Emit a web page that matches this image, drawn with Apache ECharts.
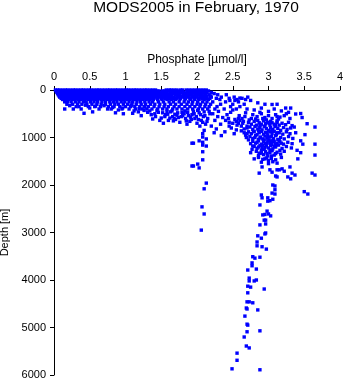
<!DOCTYPE html>
<html>
<head>
<meta charset="utf-8">
<script src="https://cdn.jsdelivr.net/npm/echarts@6/dist/echarts.min.js"></script>
<style>
  html, body { margin: 0; padding: 0; background: #fff; }
  #chart { width: 345px; height: 384px; }
</style>
</head>
<body>
<div id="chart"></div>
<script>
// Phosphate profiles, MODS2005, February 1970.
// Upper ocean: samples at standard depths (m), one phosphate list per depth.
const levelDepths = [0, 20, 50, 75, 100, 125, 150, 175, 200, 250, 300, 350, 400];
const levelPhosphate = [
  [0.02,0.05,0.08,0.12,0.16,0.19,0.23,0.27,0.3,0.34,0.38,0.41,0.45,0.49,0.52,0.56,0.6,0.63,0.67,0.71,0.75,0.78,0.82,0.86,0.89,0.93,0.97,1.01,1.04,1.08,1.12,1.15,1.19,1.23,1.27,1.3,1.34,1.38,1.42,1.57,1.61,1.64,1.68,1.72,1.77,1.8,1.85,1.89,1.93,1.97,2.01,2.05,2.09,2.13],
  [0.03,0.07,0.1,0.14,0.18,0.21,0.25,0.29,0.33,0.36,0.4,0.44,0.47,0.51,0.55,0.58,0.62,0.66,0.69,0.73,0.77,0.8,0.84,0.88,0.91,0.95,0.99,1.02,1.06,1.1,1.13,1.17,1.21,1.25,1.28,1.32,1.36,1.4,1.44,1.47,1.52,1.55,1.6,1.66,1.7,1.74,1.79,1.87,1.91,1.95,2.02,2.06,2.11,2.16],
  [0.04,0.08,0.11,0.15,0.19,0.22,0.26,0.3,0.34,0.37,0.41,0.45,0.48,0.52,0.56,0.59,0.63,0.67,0.7,0.74,0.78,0.82,0.85,0.89,0.93,0.96,1.0,1.04,1.08,1.11,1.15,1.19,1.22,1.26,1.3,1.34,1.38,1.41,1.45,1.5,1.54,1.58,1.63,1.69,1.73,1.78,1.82,1.9,1.94,1.99,2.04,2.1,2.14,2.2],
  [0.05,0.09,0.13,0.16,0.2,0.24,0.27,0.31,0.35,0.39,0.42,0.46,0.5,0.53,0.57,0.61,0.65,0.68,0.72,0.76,0.79,0.83,0.87,0.9,0.94,0.98,1.02,1.05,1.09,1.13,1.16,1.2,1.24,1.28,1.31,1.35,1.39,1.43,1.48,1.53,1.57,1.62,1.67,1.71,1.76,1.84,1.88,1.93,1.98,2.03,2.07,2.12,2.24],
  [0.06,0.1,0.14,0.17,0.21,0.25,0.29,0.32,0.36,0.4,0.44,0.47,0.51,0.55,0.58,0.62,0.66,0.7,0.73,0.77,0.81,0.84,0.88,0.92,0.96,0.99,1.03,1.07,1.11,1.14,1.18,1.22,1.26,1.29,1.33,1.37,1.41,1.46,1.51,1.56,1.61,1.65,1.7,1.75,1.81,1.86,1.92,1.97,2.01,2.06,2.11,2.17,2.29,2.41],
  [0.07,0.11,0.15,0.19,0.22,0.26,0.3,0.34,0.38,0.41,0.45,0.49,0.53,0.57,0.6,0.64,0.68,0.72,0.75,0.79,0.83,0.87,0.91,0.94,0.98,1.02,1.06,1.1,1.13,1.17,1.21,1.25,1.29,1.32,1.36,1.4,1.44,1.49,1.54,1.59,1.64,1.72,1.78,1.83,1.89,1.95,2.0,2.05,2.09,2.14,2.19],
  [0.08,0.12,0.16,0.2,0.24,0.28,0.31,0.35,0.39,0.43,0.47,0.51,0.55,0.59,0.63,0.66,0.7,0.74,0.78,0.82,0.86,0.9,0.93,0.97,1.01,1.05,1.09,1.12,1.16,1.2,1.24,1.28,1.32,1.35,1.39,1.43,1.47,1.52,1.57,1.62,1.68,1.74,1.8,1.87,1.93,1.99,2.04,2.08,2.13,2.2,2.34,2.52,2.71],
  [0.1,0.14,0.18,0.22,0.26,0.3,0.33,0.37,0.41,0.46,0.5,0.54,0.57,0.61,0.65,0.69,0.73,0.77,0.81,0.85,0.89,0.93,0.97,1.0,1.04,1.08,1.12,1.16,1.2,1.24,1.27,1.31,1.35,1.39,1.44,1.5,1.55,1.6,1.66,1.71,1.77,1.84,1.9,1.96,2.02,2.07,2.12,2.18,2.27,2.45,2.63],
  [0.12,0.16,0.2,0.25,0.29,0.34,0.38,0.43,0.48,0.52,0.57,0.61,0.66,0.7,0.75,0.79,0.84,0.88,0.93,0.97,1.02,1.06,1.11,1.15,1.2,1.24,1.29,1.34,1.39,1.45,1.51,1.58,1.64,1.7,1.76,1.83,1.91,1.97,2.03,2.1,2.16,2.32,2.56,2.68],
  [0.15,0.19,0.24,0.3,0.35,0.41,0.45,0.51,0.56,0.61,0.67,0.72,0.78,0.83,0.88,0.94,0.99,1.05,1.1,1.16,1.21,1.27,1.33,1.38,1.46,1.53,1.61,1.67,1.75,1.82,1.88,1.94,2.01,2.08,2.14,2.22,2.4,2.58],
  [0.18,0.26,0.33,0.39,0.46,0.53,0.6,0.66,0.72,0.79,0.85,0.9,0.97,1.03,1.09,1.15,1.22,1.28,1.35,1.41,1.48,1.55,1.63,1.7,1.78,1.86,1.93,2.0,2.05,2.12,2.19,2.33,2.5,2.66],
  [0.35,0.48,0.57,0.65,0.76,0.84,0.92,1.0,1.07,1.13,1.2,1.26,1.32,1.4,1.47,1.54,1.6,1.68,1.75,1.83,1.9,1.97,2.04,2.11,2.17,2.28,2.47,2.6],
  [0.15,0.27,0.63,0.8,0.95,1.05,1.14,1.23,1.3,1.37,1.45,1.52,1.58,1.66,1.72,1.79,1.87,1.94,2.02,2.08,2.15,2.25,2.38,2.55,2.7]
];

// Thermocline samples: [phosphate µmol/l, depth m]
const thermoclinePoints = [
  [0.22,330],[0.31,350],[0.44,320],[0.58,340],[0.7,330],[0.82,370],[0.96,380],[1.08,330],[1.19,390],[1.27,360],
  [0.5,380],[0.38,400],[0.75,400],[0.9,420],[1.12,440],[1.26,430],
  [0.42,490],[0.54,460],[0.86,480],[0.97,500],[1.1,490],[1.18,460],[1.22,540],[1.31,470],[1.36,520],[1.42,560],
  [1.46,470],[1.5,590],[1.53,700],[1.56,520],[1.6,640],[1.63,460],[1.66,560],[1.7,620],[1.73,480],[1.76,680],
  [1.8,540],[1.84,600],[1.87,470],[1.9,660],[1.93,520],[1.97,600],[2.0,700],[2.03,480],[2.06,640],[2.09,560],
  [2.12,720],[2.15,600],[2.18,500],[1.58,450],[1.69,510],[1.79,470],[1.95,450],[2.1,460],[1.38,610],[1.48,640],
  [1.62,590],[1.86,720],[2.04,760],[1.74,580],[1.91,570],
  [1.34,440],[1.41,500],[1.44,430],[1.52,480],[1.55,560],[1.59,510],[1.65,440],[1.68,600],[1.72,530],[1.78,560],
  [1.82,500],[1.85,650],[1.88,540],[1.92,620],[1.96,500],[1.99,560],[2.02,620],[2.05,520],[2.08,680],[2.11,540],
  [2.14,660],[2.17,450],[2.01,430],[1.83,440],[1.67,650],
  [2.22,500],[2.25,640],[2.27,820],[2.3,450],[2.33,720],[2.36,580],[2.39,880],[2.42,520],[2.45,680],[2.48,800],
  [2.5,420],[2.53,620],[2.56,740],[2.59,540],[2.62,860],[2.65,660],[2.68,480],[2.7,760],[2.24,900],[2.34,960],
  [2.44,600],[2.52,920],[2.58,700],[2.66,900],[2.2,760],[2.29,560],[2.4,640],[2.47,470],[2.55,840],[2.63,600],
  [2.46,220],[2.53,220],[2.6,170],[2.75,220],[2.85,270],[2.95,300],[3.05,305],[3.12,300],[3.24,380],[3.31,380],
  [3.38,505],[3.45,495],[3.47,580],[3.54,710],[3.65,780],[3.51,940],[3.45,1070],[3.4,1270],[3.45,1320],[3.41,1450],
  [3.48,1140],[3.65,1140],[3.65,1370],[3.61,1750],[3.65,1790],
  [2.8,420],[2.9,380],[3.0,450],[3.08,400],[3.18,440],[3.28,470],[2.88,470],[3.12,560],[2.76,600]
];

// Intermediate-water maximum around 800-1400 m
const maximumPoints = [
  [2.78,520],[2.84,560],[2.9,500],[2.95,580],[3.0,540],[3.05,600],[3.1,520],[3.16,570],[3.22,540],[3.3,600],[2.82,610],[2.97,630],[3.12,650],[3.25,500],
  [2.72,680],[2.76,720],[2.8,660],[2.83,740],[2.87,690],[2.9,720],[2.93,650],[2.96,710],[2.99,680],[3.02,740],[3.05,690],[3.08,720],[3.12,680],[3.15,740],[3.19,700],[3.24,730],[3.28,680],[3.33,750],
  [2.7,800],[2.74,780],[2.78,830],[2.81,770],[2.85,820],[2.88,790],[2.91,840],[2.94,770],[2.97,810],[3.0,850],[3.03,790],[3.06,830],[3.09,770],[3.13,810],[3.17,850],[3.21,790],[3.26,830],[3.31,800],[3.36,780],
  [2.72,880],[2.76,920],[2.8,870],[2.84,940],[2.87,900],[2.9,870],[2.93,930],[2.96,890],[2.99,950],[3.02,880],[3.05,920],[3.08,870],[3.11,940],[3.15,900],[3.2,930],[3.25,880],[3.3,920],[3.38,900],
  [2.74,980],[2.78,1020],[2.82,960],[2.86,1040],[2.89,990],[2.92,1030],[2.95,970],[2.98,1010],[3.01,1050],[3.04,980],[3.07,1020],[3.1,960],[3.13,1040],[3.17,1000],[3.22,1030],[3.28,980],[3.34,1020],
  [2.78,1080],[2.82,1120],[2.86,1070],[2.9,1140],[2.93,1090],[2.96,1130],[2.99,1070],[3.02,1110],[3.05,1150],[3.08,1080],[3.12,1120],[3.16,1090],[3.21,1140],[3.27,1100],[3.33,1130],
  [2.8,1190],[2.84,1230],[2.88,1170],[2.91,1210],[2.94,1250],[2.97,1180],[3.0,1220],[3.03,1170],[3.06,1240],[3.1,1200],[3.14,1160],[3.19,1230],[3.25,1190],[3.32,1220],
  [2.83,1290],[2.87,1330],[2.9,1270],[2.93,1360],[2.96,1300],[2.99,1390],[3.02,1320],[3.05,1280],[3.08,1370],[3.12,1310],[3.17,1350],[3.22,1290],
  [2.86,1420],[2.92,1460],[2.97,1430],[3.0,1480],[3.04,1440],[3.1,1470],[3.18,1420],[2.8,1450],
  [2.85,640],[2.92,600],[3.03,660],[3.14,610],[2.88,750],[2.95,760],[3.01,700],[3.1,750],[2.79,880],[2.86,860],
  [2.98,900],[3.04,860],[3.12,900],[2.81,1000],[2.88,1010],[2.94,1050],[3.0,990],[3.06,1060],[3.15,1060],[2.84,1100],
  [2.92,1160],[2.98,1120],[3.04,1090],[3.1,1150],[3.18,1120],[2.86,1200],[2.95,1210],[3.02,1260],[3.08,1190],[3.16,1270],
  [2.9,1330],[2.98,1340],[3.04,1390],[3.1,1340],[2.95,1450],[3.06,1510],[2.9,1520],[3.0,1550],[3.12,1540],[2.86,1380],
  [2.58,600],[2.62,760],[2.66,820],[2.68,950],[2.72,1050],[2.75,1130],[2.64,700],[2.7,920],[2.77,1250],[2.75,1320],
  [2.6,640],[2.55,660],[2.5,700],[2.45,760],[2.67,560],[2.73,630],[2.78,1180],[2.69,1000]
];

// Single station with lower values, 850-2950 m
const westernPoints = [
  [2.1,850],[2.08,920],[2.08,990],[2.03,1070],[2.08,1100],[1.93,1120],[1.95,1120],[2.13,1030],[2.08,1160],[2.13,1180],
  [2.08,1300],[2.08,1470],[2.01,1560],[2.03,1640],[1.93,1600],[1.95,1600],[2.13,1960],[2.1,2080],[2.07,2460],[2.1,2610],[2.06,2950]
];

// Deep water below 1500 m
const deepPoints = [
  [2.91,1620],[3.02,1680],[3.12,1680],[3.19,1660],[3.3,1620],[3.1,1810],[3.27,1830],[3.33,1750],[2.87,1750],[3.05,1730],
  [3.15,1680],[3.22,1710],[3.37,1790],[3.31,1870],[3.12,1830],[3.09,2020],[3.06,2000],[3.09,2100],[3.05,2170],[3.09,2190],
  [3.5,2140],[3.55,2190],[2.9,2210],[2.91,2270],[2.99,2270],[2.99,2340],[3.06,2300],[3.02,2330],[2.88,2420],[2.98,2550],
  [2.92,2630],[2.95,2620],[3.0,2610],[3.03,2650],[2.94,2740],[2.96,2740],[2.88,2840],[2.96,2820],[2.95,3030],[2.96,3010],
  [2.85,3070],[2.9,3120],[2.84,3200],[2.84,3280],[2.91,3300],[2.97,3350],[2.78,3510],[2.81,3540],[2.88,3520],[2.77,3640],
  [2.77,3700],[2.71,3790],[2.83,3770],[2.73,3960],[2.73,4020],[2.8,4020],[2.83,4000],[2.71,4130],[2.75,4150],[2.94,4190],
  [2.71,4270],[2.7,4460],[2.73,4460],[2.78,4480],[2.69,4590],[2.7,4610],[2.85,4630],[2.67,4760],[2.7,4930],[2.71,4950],
  [2.88,5070],[2.7,5090],[2.66,5200],[2.69,5390],[2.73,5430],[2.56,5540],[2.56,5690],[2.49,5870],[2.88,5890]
];

const xTicks = { min: 0, max: 4, step: 0.5 };
const yTicks = { min: 0, max: 6000, step: 1000 };

const samples = [];
levelDepths.forEach((d, i) => levelPhosphate[i].forEach(p => samples.push([p, d])));
[thermoclinePoints, maximumPoints, westernPoints, deepPoints].forEach(list => list.forEach(pt => samples.push(pt)));

const font = '"Liberation Sans", Arial, Helvetica, sans-serif';
const plain = v => String(v);
const chart = echarts.init(document.getElementById('chart'), null, { renderer: 'canvas' });
chart.setOption({
  animation: false,
  backgroundColor: '#ffffff',
  title: {
    text: 'MODS2005 in February, 1970',
    left: 196,
    top: 0,
    padding: 0,
    textAlign: 'center',
    textStyle: { fontFamily: font, fontSize: 15.5, fontWeight: 'normal', color: '#000' }
  },
  grid: { left: 54, top: 90, width: 286, height: 285, containLabel: false, outerBoundsMode: 'none' },
  xAxis: {
    type: 'value',
    position: 'top',
    min: xTicks.min, max: xTicks.max, interval: xTicks.step,
    name: 'Phosphate [µmol/l]',
    nameLocation: 'middle',
    nameGap: 22,
    nameTextStyle: { fontFamily: font, fontSize: 12, color: '#000' },
    axisLine: { show: true, lineStyle: { color: '#000', width: 1 } },
    axisTick: { show: true, inside: false, length: 4, lineStyle: { color: '#000' } },
    axisLabel: { fontFamily: font, fontSize: 11, color: '#000', margin: 8, formatter: plain },
    splitLine: { show: false }
  },
  yAxis: {
    type: 'value',
    inverse: true,
    min: yTicks.min, max: yTicks.max, interval: yTicks.step,
    name: 'Depth [m]',
    nameLocation: 'middle',
    nameRotate: 90,
    nameGap: 37,
    nameTextStyle: { fontFamily: font, fontSize: 11, color: '#000' },
    axisLine: { show: true, lineStyle: { color: '#000', width: 1 } },
    axisTick: { show: true, inside: false, length: 4, lineStyle: { color: '#000' } },
    axisLabel: { fontFamily: font, fontSize: 11, color: '#000', margin: 8, formatter: plain },
    splitLine: { show: false }
  },
  series: [{
    type: 'scatter',
    data: samples,
    symbol: 'rect',
    symbolSize: 3.4,
    itemStyle: { color: '#0000ff', opacity: 1 },
    emphasis: { disabled: true }
  }]
});
</script>
</body>
</html>
